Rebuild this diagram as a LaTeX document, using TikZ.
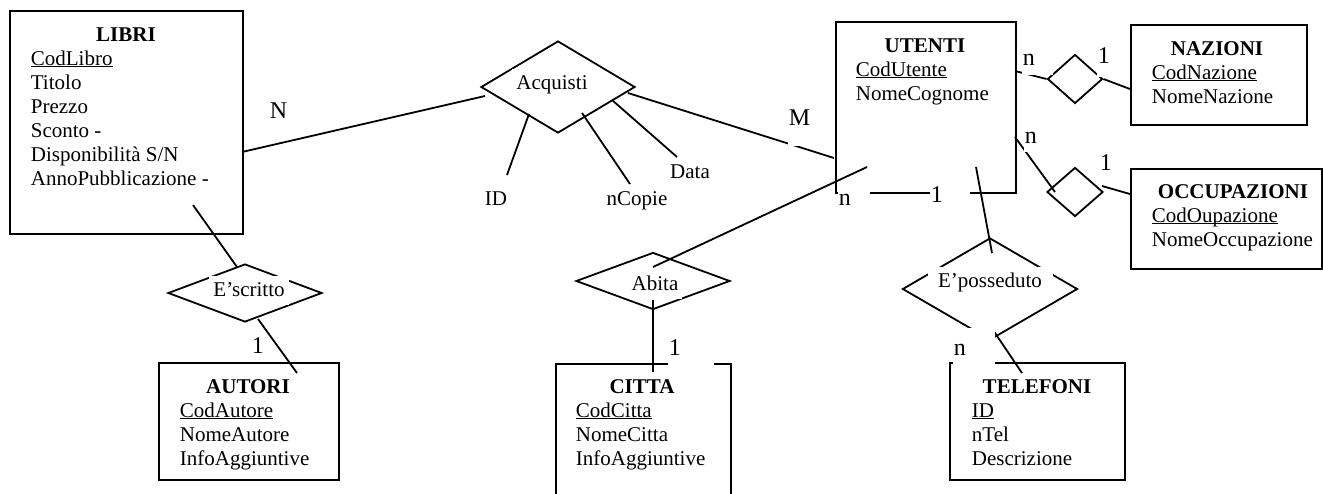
\documentclass[tikz,border=0pt]{standalone}
\usepackage{fontspec}
\setmainfont{Liberation Serif}
\usepackage{tikz}
\usetikzlibrary{shapes.geometric}

\newcommand{\erfont}{\fontsize{21}{24}\selectfont}
\newcommand{\cardfont}{\fontsize{24}{28}\selectfont}
\newcommand{\pk}[1]{\underline{\smash{#1}}}

\begin{document}
\begin{tikzpicture}[x=1pt,y=-1pt,line width=1.8pt,
                    entity/.style={draw,rectangle,anchor=north west,inner sep=0pt},
                    rel/.style={draw,diamond,inner sep=0pt},
                    ename/.style={anchor=base,font=\erfont\bfseries,inner sep=0pt},
                    attr/.style={anchor=base west,font=\erfont,inner sep=0pt},
                    aname/.style={anchor=base,font=\erfont,inner sep=0pt},
                    rname/.style={anchor=base,font=\erfont,fill=white,inner xsep=4pt,inner ysep=4pt,text height=16pt,text depth=5pt},
                    card/.style={anchor=base west,font=\cardfont,fill=white,inner sep=1pt,align=left}]
                    \clip (0,0) rectangle (1323,493);

                    \node[entity,minimum width=233,minimum height=223] (libri) at (9,10) {};
                    \node[entity,minimum width=180,minimum height=171] (utenti) at (835,21) {};
                    \node[entity,minimum width=176,minimum height=100] (nazioni) at (1130,24) {};
                    \node[entity,minimum width=191,minimum height=100] (occupazioni) at (1130,168) {};
                    \node[entity,minimum width=180,minimum height=117] (autori) at (158,362) {};
                    \node[entity,minimum width=175,minimum height=140] (citta) at (555,363) {};
                    \node[entity,minimum width=175,minimum height=117] (telefoni) at (949,362) {};

                    \node[ename] (libriT) at (126,41) {LIBRI};
                    \node[ename] (utentiT) at (925,52) {UTENTI};
                    \node[ename] (nazioniT) at (1217,55) {NAZIONI};
                    \node[ename] (occupazioniT) at (1233,198) {OCCUPAZIONI};
                    \node[ename] (autoriT) at (248,393) {AUTORI};
                    \node[ename] (cittaT) at (642,393) {CITTA};
                    \node[ename] (telefoniT) at (1037,393) {TELEFONI};

                    \foreach \a [count=\i from 0] in {\pk{CodLibro},Titolo,Prezzo,Sconto -,{Disponibilità S/N},AnnoPubblicazione -}
                        \node[attr] (libri-\i) at (30,65+24*\i) {\a};
                    \foreach \a [count=\i from 0] in {\pk{CodUtente},NomeCognome}
                        \node[attr] (utenti-\i) at (855,76+24*\i) {\a};
                    \foreach \a [count=\i from 0] in {\pk{CodNazione},NomeNazione}
                        \node[attr] (nazioni-\i) at (1151,79+24*\i) {\a};
                    \foreach \a [count=\i from 0] in {\pk{CodOupazione},NomeOccupazione}
                        \node[attr] (occupazioni-\i) at (1151,222+24*\i) {\a};
                    \foreach \a [count=\i from 0] in {\pk{CodAutore},NomeAutore,InfoAggiuntive}
                        \node[attr] (autori-\i) at (179,417+24*\i) {\a};
                    \foreach \a [count=\i from 0] in {\pk{CodCitta},NomeCitta,InfoAggiuntive}
                        \node[attr] (citta-\i) at (575,417+24*\i) {\a};
                    \foreach \a [count=\i from 0] in {\pk{ID},nTel,Descrizione}
                        \node[attr] (telefoni-\i) at (971,417+24*\i) {\a};

                    \node[rel,minimum width=154,minimum height=92] (acquisti) at (558,87) {};
                    \node[rel,minimum width=154,minimum height=57] (abita) at (653,281) {};
                    \node[rel,minimum width=154,minimum height=58] (scritto) at (245,293) {};
                    \node[rel,minimum width=175,minimum height=102] (posseduto) at (990,289) {};
                    \node[rel,minimum width=55,minimum height=49] (relNaz) at (1075,79) {};
                    \node[rel,minimum width=56,minimum height=49] (relOcc) at (1075,192) {};

                    \coordinate (libriA) at (242,152);
                    \coordinate (acqL) at (485,96);
                    \coordinate (acqR) at (628,93);
                    \coordinate (utentiA) at (834,158);
                    \coordinate (acqId) at (529,114);
                    \coordinate (acqNc) at (582,113);
                    \coordinate (acqDt) at (612,100);
                    \coordinate (idEnd) at (507,175);
                    \coordinate (ncEnd) at (630,184);
                    \coordinate (dtEnd) at (677,157);
                    \coordinate (utentiB) at (867,167);
                    \coordinate (abitaT) at (653,267);
                    \coordinate (abitaB) at (653,300);
                    \coordinate (cittaA) at (653,372);
                    \coordinate (utentiC) at (976,167);
                    \coordinate (possT) at (992,253);
                    \coordinate (possB) at (993,330);
                    \coordinate (telefoniA) at (1022,373);
                    \coordinate (libriB) at (193,205);
                    \coordinate (scrittoT) at (237,267);
                    \coordinate (scrittoB) at (258,319);
                    \coordinate (autoriA) at (297,373);
                    \coordinate (utentiD) at (1015,71);
                    \coordinate (nazioniA) at (1130,89);
                    \coordinate (utentiE) at (1015,137);
                    \coordinate (relOccIn) at (1055,192);
                    \coordinate (relOccOut) at (1102,186);
                    \coordinate (occupazioniA) at (1130,194);

                    \draw (libriA) -- (acqL);
                    \draw (acqR) -- (utentiA);
                    \draw (acqId) -- (idEnd);
                    \draw (acqNc) -- (ncEnd);
                    \draw (acqDt) -- (dtEnd);
                    \draw (utentiB) -- (abitaT);
                    \draw (abitaB) -- (cittaA);
                    \draw (utentiC) -- (possT);
                    \draw (possB) -- (telefoniA);
                    \draw (libriB) -- (scrittoT);
                    \draw (scrittoB) -- (autoriA);
                    \draw (utentiD) -- (relNaz.west);
                    \draw (relNaz.east) -- (nazioniA);
                    \draw (utentiE) -- (relOccIn);
                    \draw (relOccOut) -- (occupazioniA);

                    \node[aname] (idL) at (496,205) {ID};
                    \node[aname] (ncL) at (637,205) {nCopie};
                    \node[aname] (dtL) at (690,178) {Data};

                    \node[rname] (acquistiL) at (552,89) {Acquisti};
                    \node[rname] (abitaL) at (655,290) {Abita};
                    \node[rname,minimum width=80] (scrittoL) at (249,296) {E'scritto};
                    \node[rname,minimum width=125] (possedutoL) at (990,287) {E'posseduto};

                    \node[card] (cN) at (268,118) {N};
                    \node[card,text depth=20pt] (cM) at (787,125) {M};
                    \node[card,text width=30pt,text height=16pt] (cUn) at (837,205) {n};
                    \node[card,text width=38pt,text height=14pt] (cU1) at (929,202) {1};
                    \node[card,text width=44pt,text depth=10pt] (cC1) at (667,355) {1};
                    \node[card,text width=40pt,text height=26pt,text depth=10pt] (cTn) at (952,355) {n};
                    \node[card,text depth=8pt] (cOn) at (1023,143) {n};
                    \node[card,text width=29pt,text depth=9pt] (cNn) at (1021,65) {n};
                    \node[card,text width=18pt,text depth=13pt] (cN1) at (1096,63) {1};
                    \node[card] (cO1) at (1098,170) {1};
                    \node[card] (cA1) at (250,353) {1};
                \end{tikzpicture}
\end{document}
